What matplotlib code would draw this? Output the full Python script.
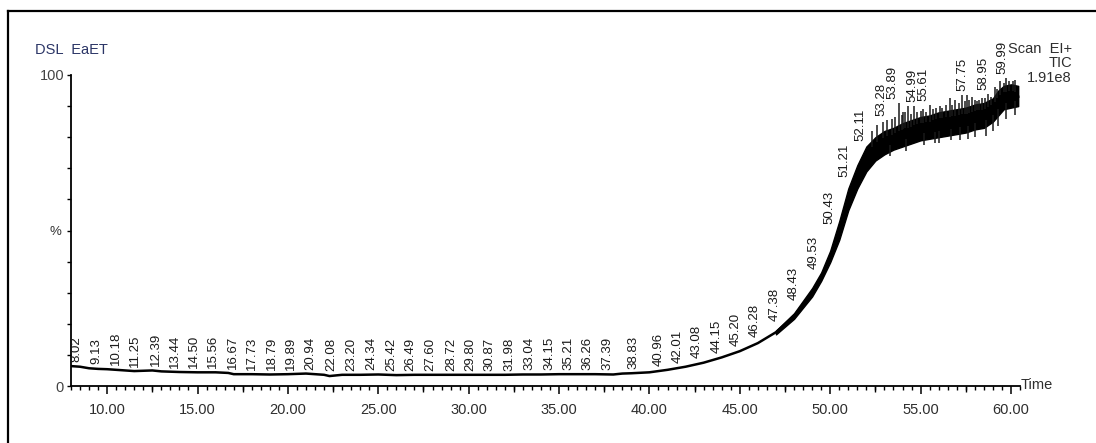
import numpy as np
import matplotlib.pyplot as plt
import matplotlib.transforms as mtransforms
from matplotlib.lines import Line2D

plt.rcParams['font.family'] = ['Liberation Sans', 'DejaVu Sans']

# TIC trace (time in min, relative intensity in %)
trace_t = [8.0, 8.5, 9.0, 9.5, 10.0, 10.5, 11.0, 11.5, 12.0, 12.5, 13.0, 14.0, 15.0,
           16.0, 16.7, 17.0, 18.0, 19.0, 20.0, 21.0, 22.0, 22.3, 23.0, 24.0, 25.0,
           26.0, 27.0, 28.0, 29.0, 30.0, 31.0, 32.0, 33.0, 34.0, 35.0, 36.0, 37.0,
           38.0, 38.5, 39.0, 40.0, 41.0, 42.0, 43.0, 44.0, 45.0, 46.0, 47.0, 48.0,
           49.0, 49.5, 50.0, 50.5, 51.0, 51.5, 52.0, 52.5, 53.0, 53.5, 54.0, 55.0,
           56.0, 57.0, 58.0, 58.5, 59.0, 59.5, 60.0, 60.4]
trace_v = [6.4, 6.2, 5.7, 5.5, 5.4, 5.2, 5.0, 4.8, 4.9, 5.0, 4.7, 4.5, 4.4,
           4.4, 4.2, 3.8, 3.8, 3.7, 3.8, 4.0, 3.6, 3.2, 3.6, 3.6, 3.7,
           3.5, 3.6, 3.6, 3.6, 3.6, 3.6, 3.6, 3.7, 3.7, 3.8, 3.8, 3.8,
           3.7, 4.0, 4.1, 4.4, 5.2, 6.2, 7.5, 9.2, 11.2, 13.8, 17.3, 22.5,
           30.0, 35.0, 41.5, 50.0, 60.0, 67.5, 73.0, 76.0, 78.0, 79.5, 81.0, 82.5,
           84.0, 85.0, 86.5, 87.5, 89.0, 92.0, 93.0, 93.0]

# noisy band (lower / upper envelope)
band_t = [47.0, 48.0, 49.0, 49.5, 50.0, 50.5, 51.0, 51.5, 52.0, 52.5, 53.0, 53.5,
          54.0, 54.5, 55.0, 55.5, 56.0, 56.5, 57.0, 57.5, 58.0, 58.5, 59.0, 59.3,
          59.6, 60.0, 60.4]
band_hi = [17.8, 23.4, 31.5, 36.5, 43.5, 53.0, 63.5, 71.0, 77.0, 80.0, 82.0, 83.0,
           84.5, 85.5, 86.5, 87.0, 88.0, 88.5, 89.0, 89.5, 90.5, 91.0, 92.5, 95.0,
           96.5, 97.0, 96.5]
band_lo = [16.6, 21.6, 28.8, 33.8, 39.8, 47.0, 56.5, 63.5, 69.0, 72.5, 74.5, 76.0,
           77.0, 78.0, 79.0, 79.5, 80.0, 80.5, 81.0, 81.5, 82.5, 83.0, 85.0, 87.0,
           89.0, 89.5, 90.0]

# single-scan spikes above and below the band
spike_t = [52.3, 52.6, 52.9, 53.15, 53.4, 53.6, 53.78, 53.95, 54.05, 54.15, 54.3,
           54.45, 54.65, 54.8, 55.0, 55.15, 55.3, 55.5, 55.7, 55.85, 56.05, 56.2,
           56.4, 56.6, 56.75, 56.9, 57.1, 57.3, 57.45, 57.55, 57.7, 57.85, 58.0,
           58.1, 58.25, 58.4, 58.55, 58.75, 58.9, 59.1, 59.25, 59.4, 59.6, 59.75,
           59.9, 60.1, 60.25]
spike_top = [82.0, 84.0, 85.0, 85.5, 86.0, 86.5, 91.0, 87.0, 88.0, 88.0, 90.0,
             87.5, 90.0, 88.0, 88.5, 89.0, 88.0, 90.5, 89.0, 89.5, 90.0, 89.5,
             90.5, 92.6, 90.5, 92.0, 91.0, 93.5, 91.5, 93.6, 92.0, 93.0, 92.0,
             91.5, 92.0, 92.5, 92.5, 94.0, 93.0, 96.0, 95.5, 98.0, 97.5, 99.0,
             98.0, 98.0, 98.5]
dip_t = [53.3, 54.2, 55.2, 55.8, 56.0, 56.7, 57.2, 57.6, 58.0, 58.6, 59.0, 59.3,
         59.7, 60.2]
dip_bottom = [74.0, 75.5, 77.5, 78.0, 78.0, 79.0, 79.0, 79.5, 80.0, 80.5, 82.0,
              83.5, 86.0, 87.0]

# retention time labels
peak_times = [8.02, 9.13, 10.18, 11.25, 12.39, 13.44, 14.50, 15.56, 16.67, 17.73,
              18.79, 19.89, 20.94, 22.08, 23.20, 24.34, 25.42, 26.49, 27.60, 28.72,
              29.80, 30.87, 31.98, 33.04, 34.15, 35.21, 36.26, 37.39, 38.83, 40.96,
              42.01, 43.08, 44.15, 45.20, 46.28, 47.38, 48.43, 49.53, 50.43, 51.21,
              52.11, 53.28, 53.89, 54.99, 55.61, 57.75, 58.95, 59.99]

fig = plt.figure(figsize=(10.96, 4.43), dpi=100)
ax = fig.add_axes([71/1096, 57/443, 949/1096, 311/443])

ax.plot(trace_t, trace_v, color='black', lw=1.8, solid_joinstyle='round')
ax.fill_between(band_t, band_lo, band_hi, color='black', lw=1.0)
sp_base = np.interp(spike_t, band_t, band_hi) - 2
ax.vlines(spike_t, sp_base, spike_top, color='#1a1a1a', lw=1.1)
dp_top = np.interp(dip_t, band_t, band_lo) + 2
ax.vlines(dip_t, dip_bottom, dp_top, color='#1a1a1a', lw=1.1)

def upper(t):
    if t >= band_t[0]:
        v = np.interp(t, band_t, band_hi)
    else:
        v = np.interp(t, trace_t, trace_v)
    return v

for t in peak_times:
    x = t + (0.3 if t < 40 else -0.45)
    level = max(upper(xx) for xx in np.linspace(x - 0.25, x + 0.4, 9))
    near = [h for s, h in zip(spike_t, spike_top) if x - 0.25 <= s <= x + 0.4]
    if near:
        level = max(level, max(near))
    ax.text(x, level + 1.3, '%.2f' % t, rotation=90, ha='center', va='bottom',
            fontsize=9.5, color='#1a1a1a', clip_on=False)

ax.set_xlim(8.0, 60.5)
ax.set_ylim(0, 100)
for s in ['top', 'right']:
    ax.spines[s].set_visible(False)
for s in ['left', 'bottom']:
    ax.spines[s].set_linewidth(1.3)

ax.set_xticks(np.arange(10, 61, 5))
ax.set_xticklabels(['%.2f' % v for v in np.arange(10, 61, 5)])
ax.set_xticks(np.arange(8.0, 60.6, 0.5), minor=True)
ax.tick_params(axis='x', which='major', length=6, width=1.1, pad=6,
               labelsize=10.5, labelcolor='#2e2e2e')
ax.tick_params(axis='x', which='minor', length=3, width=1.0)
mid = [v for v in np.arange(7.5, 60.6, 5.0) if v >= 8.0]
trans = mtransforms.blended_transform_factory(ax.transData, ax.transAxes)
ax.plot(mid, np.zeros(len(mid)), ls='none', marker=3, ms=4.2, mew=1.0,
        color='black', transform=trans, clip_on=False)

ax.set_yticks(np.arange(0, 101, 10))
ax.set_yticklabels(['0'] + [''] * 9 + ['100'])
ax.tick_params(axis='y', length=3, width=1.0, pad=2, labelsize=10.5,
               labelcolor='#444444')

fig.text(35/1096, 1 - 50/443, 'DSL  EaET', color='#2b3566', fontsize=10.5, va='center')
fig.text(50/1096, 1 - 232/443, '%', color='#333333', fontsize=9.5, va='center')
fig.text(1072/1096, 1 - 49/443, 'Scan  EI+', ha='right', va='center', fontsize=10.5,
         color='#2e2e2e')
fig.text(1072/1096, 1 - 63/443, 'TIC', ha='right', va='center', fontsize=10.5,
         color='#2e2e2e')
fig.text(1072/1096, 1 - 78/443, '1.91e8', ha='right', va='center', fontsize=10.5,
         color='#2e2e2e')
fig.text(1021/1096, 1 - 385/443, 'Time', ha='left', va='center', fontsize=10.5,
         color='#2e2e2e')

# frame of the original screenshot (top and left edges)
fig.add_artist(Line2D([8/1096, 8/1096], [0, 1 - 11/443], color='black', lw=1.6,
                      transform=fig.transFigure))
fig.add_artist(Line2D([8/1096, 1], [1 - 11/443, 1 - 11/443], color='black', lw=1.6,
                      transform=fig.transFigure))

fig.savefig('out.png', dpi=100)
